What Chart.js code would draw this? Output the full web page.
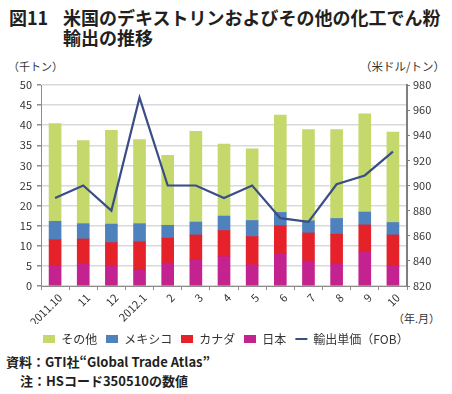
<!DOCTYPE html>
<html lang="ja"><head><meta charset="utf-8">
<script src="https://cdn.jsdelivr.net/npm/chart.js@4/dist/chart.umd.min.js"></script>
<style>
html,body{margin:0;padding:0;background:#fff;}
body{width:452px;height:394px;position:relative;overflow:hidden;font-family:"Noto Sans CJK JP","Noto Sans",sans-serif;color:#231f20;}
.t{position:absolute;white-space:nowrap;}
#wrap{position:absolute;left:0;top:70px;width:452px;height:285px;}
</style></head>
<body>
<div class="t" style="left:9px;top:7px;font-size:18px;font-weight:700;line-height:20px;">図11</div>
<div class="t" style="left:63px;top:7px;font-size:18px;font-weight:700;line-height:20px;">米国のデキストリンおよびその他の化工でん粉<br>輸出の推移</div>
<div class="t" style="left:8px;top:58px;font-size:11px;line-height:16px;color:#333;">（千トン）</div>
<div class="t" style="right:7px;top:58px;font-size:11.5px;line-height:16px;color:#333;">（米ドル/トン）</div>
<div class="t" style="right:12px;top:310px;font-size:11px;line-height:16px;color:#333;">（年.月）</div>
<div class="t" style="left:6px;top:353px;font-size:13px;font-weight:700;line-height:18px;">資料：GTI社“Global Trade Atlas”</div>
<div class="t" style="left:20px;top:372px;font-size:13px;font-weight:700;line-height:18px;">注：HSコード350510の数値</div>
<div id="wrap"><canvas id="c"></canvas></div>
<script>
const categories = ['2011.10','11','12','2012.1','2','3','4','5','6','7','8','9','10'];
const japan  = [4.9, 5.4, 4.9, 4.0, 5.7, 6.4, 7.3, 5.3, 8.0, 6.2, 5.5, 8.4, 4.9];
const canada = [6.6, 6.3, 5.9, 7.0, 6.2, 6.3, 6.5, 7.0, 7.0, 7.0, 7.4, 6.8, 7.8];
const mexico = [4.6, 3.8, 4.6, 4.5, 3.2, 3.2, 3.6, 4.0, 3.3, 3.0, 3.9, 3.2, 3.1];
const other  = [24.3, 20.7, 23.3, 20.9, 17.4, 22.6, 17.9, 17.8, 24.2, 22.7, 22.1, 24.4, 22.5];
const price  = [890, 900, 880, 970, 900, 900, 890, 900, 874, 871, 901, 908, 927];
const leftTicks = {min: 0, max: 50, step: 5};
const rightTicks = {min: 820, max: 980, step: 20};
const seriesNames = {other: 'その他', mexico: 'メキシコ', canada: 'カナダ', japan: '日本', price: '輸出単価（FOB）'};
const legendOrder = ['その他', 'メキシコ', 'カナダ', '日本', '輸出単価（FOB）'];

const colors = {other: '#c4d86c', mexico: '#4f81bd', canada: '#e52129', japan: '#c4228e', price: '#3a4d86'};

function rectImg(color) {
  const cv = document.createElement('canvas');
  cv.width = 12; cv.height = 8;
  const g = cv.getContext('2d');
  g.fillStyle = color; g.fillRect(0, 0, 12, 8);
  return cv;
}

const font = "'Noto Sans CJK JP', 'Noto Sans', sans-serif";
Chart.defaults.font.family = font;
Chart.defaults.color = '#333';

new Chart(document.getElementById('c'), {
  data: {
    labels: categories,
    datasets: [
      {type: 'line', label: seriesNames.price, data: price, yAxisID: 'y1', borderColor: colors.price, backgroundColor: colors.price, borderWidth: 2.2, pointRadius: 0, tension: 0, fill: false},
      {type: 'bar', label: seriesNames.japan, data: japan, yAxisID: 'y', backgroundColor: colors.japan, barThickness: 12},
      {type: 'bar', label: seriesNames.canada, data: canada, yAxisID: 'y', backgroundColor: colors.canada, barThickness: 12},
      {type: 'bar', label: seriesNames.mexico, data: mexico, yAxisID: 'y', backgroundColor: colors.mexico, barThickness: 12},
      {type: 'bar', label: seriesNames.other, data: other, yAxisID: 'y', backgroundColor: colors.other, barThickness: 12}
    ]
  },
  options: {
    responsive: true,
    maintainAspectRatio: false,
    animation: false,
    layout: {padding: {top: 15, left: 0, right: 0, bottom: 0}},
    plugins: {
      tooltip: {enabled: false},
      legend: {
        position: 'bottom',
        labels: {
          usePointStyle: true,
          pointStyleWidth: 12,
          boxHeight: 8,
          padding: 9,
          color: '#333',
          font: {size: 12, family: font},
          generateLabels: (chart) => {
            const items = Chart.defaults.plugins.legend.labels.generateLabels(chart);
            items.forEach(it => {
              const ds = chart.data.datasets[it.datasetIndex];
              if (ds.type === 'line') { it.pointStyle = 'line'; it.lineWidth = 2; }
              else { it.pointStyle = rectImg(ds.backgroundColor); }
            });
            items.sort((a, b) => legendOrder.indexOf(a.text) - legendOrder.indexOf(b.text));
            return items;
          }
        }
      }
    },
    scales: {
      x: {
        stacked: true,
        offset: true,
        grid: {display: true, drawOnChartArea: false, offset: true, color: '#8c8c8c', tickLength: 4},
        border: {color: '#8c8c8c', width: 1},
        ticks: {minRotation: 45, maxRotation: 45, autoSkip: false, font: {size: 11}, color: '#333', padding: 1, labelOffset: 5},
        afterFit: (s) => { s.height = 38; }
      },
      y: {
        stacked: true,
        position: 'left',
        min: leftTicks.min, max: leftTicks.max,
        ticks: {stepSize: leftTicks.step, font: {size: 11}, color: '#333', padding: 5},
        grid: {color: '#d9d9d9', lineWidth: 1.5, tickLength: 4, tickColor: '#8c8c8c'},
        border: {color: '#8c8c8c', width: 1},
        afterFit: (s) => { s.width = 41; }
      },
      y1: {
        position: 'right',
        min: rightTicks.min, max: rightTicks.max,
        ticks: {stepSize: rightTicks.step, font: {size: 11}, color: '#333', padding: 3},
        grid: {drawOnChartArea: false, tickLength: 3, color: '#7f7f7f'},
        border: {color: '#7f7f7f', width: 2},
        afterFit: (s) => { s.width = 45; }
      }
    }
  }
});
</script>
</body></html>
